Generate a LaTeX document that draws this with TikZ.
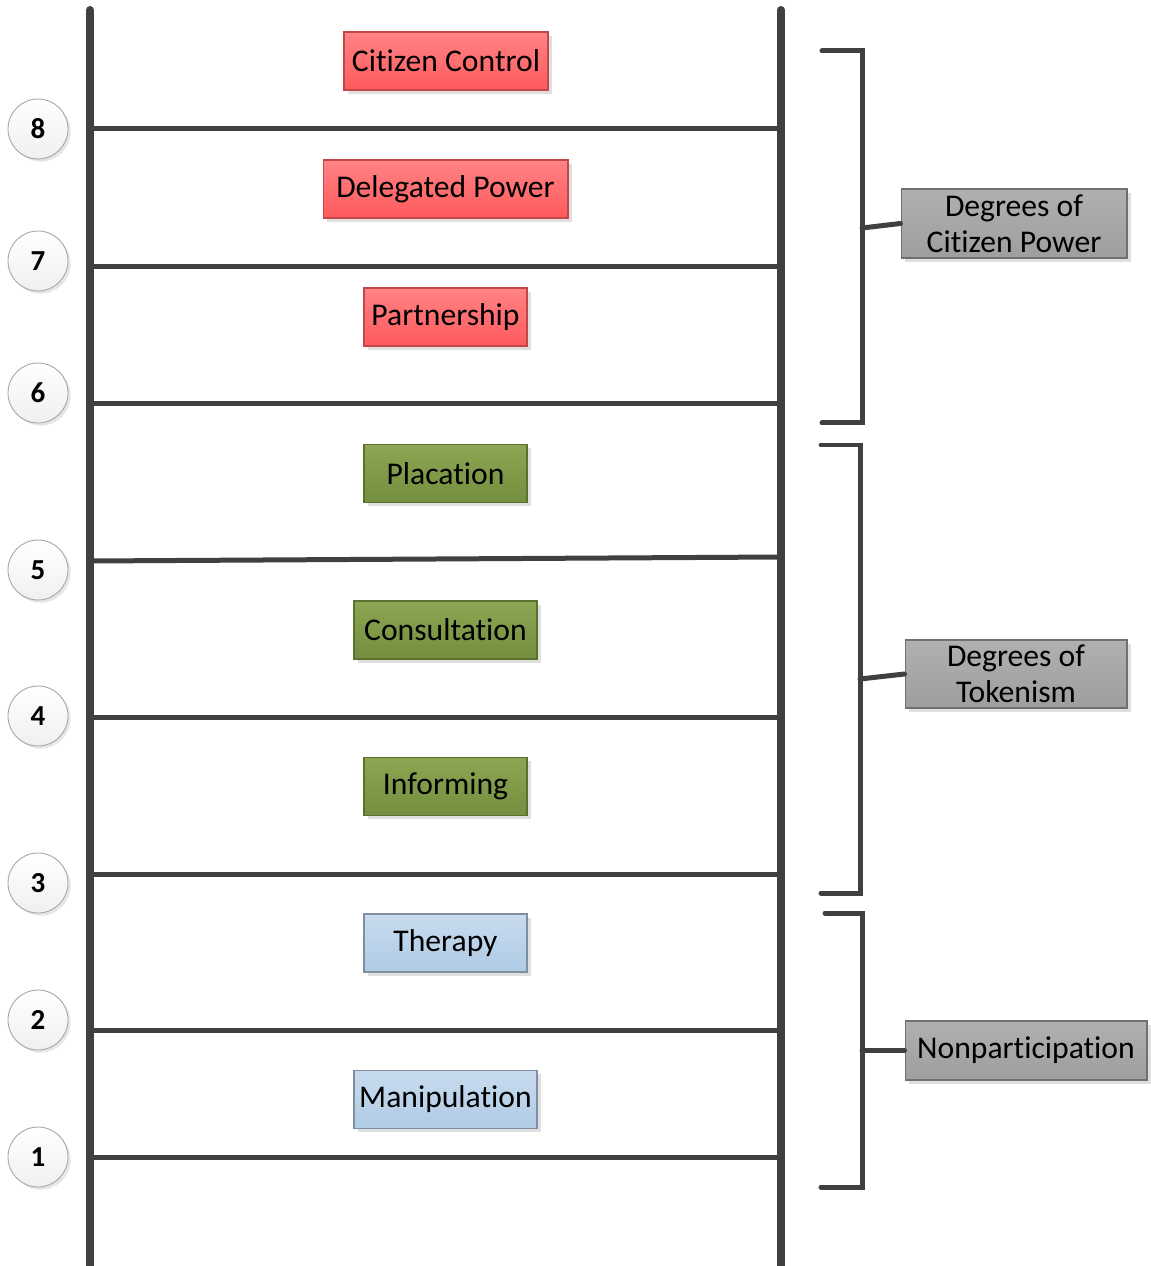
\documentclass[tikz,border=0pt]{standalone}
\usepackage{fontspec}
\setmainfont{Carlito}[Ligatures=NoCommon]
\usetikzlibrary{shadows}
\definecolor{ink}{HTML}{404040}
\definecolor{redtop}{HTML}{FF8385}
\definecolor{redbot}{HTML}{FF5A5C}
\definecolor{redline}{HTML}{C04848}
\definecolor{greentop}{HTML}{8CA653}
\definecolor{greenbot}{HTML}{738E3E}
\definecolor{greenline}{HTML}{5C7030}
\definecolor{bluetop}{HTML}{C8DBEE}
\definecolor{bluebot}{HTML}{AFCBE6}
\definecolor{blueline}{HTML}{7F8F9F}
\definecolor{graytop}{HTML}{B0B0B0}
\definecolor{graybot}{HTML}{9E9E9E}
\definecolor{grayline}{HTML}{707070}
\begin{document}
\begin{tikzpicture}[x=0.02cm,y=-0.02cm,
  rail/.style={ink, line width=0.16cm},
  rungline/.style={ink, line width=0.1cm},
  brace/.style={ink, line width=0.1cm, line cap=round},
  stage/.style={rectangle, draw, line width=0.6pt, minimum height=1.16cm,
    font=\fontsize{18}{20}\selectfont, inner sep=0pt,
    drop shadow={shadow xshift=2pt, shadow yshift=-2pt, opacity=0.25}},
  redbox/.style={stage, draw=redline, top color=redtop, bottom color=redbot},
  greenbox/.style={stage, draw=greenline, top color=greentop, bottom color=greenbot},
  bluebox/.style={stage, draw=blueline, top color=bluetop, bottom color=bluebot},
  group/.style={rectangle, draw=grayline, line width=0.6pt, top color=graytop,
    bottom color=graybot, align=center, inner sep=0pt,
    font=\fontsize{18}{20.4}\selectfont,
    drop shadow={shadow xshift=2pt, shadow yshift=-2pt, opacity=0.25}},
  step num/.style={circle, draw=gray!70, line width=0.5pt, minimum size=1.2cm,
    inner sep=0pt, top color=white, bottom color=gray!12,
    font=\bfseries\fontsize{16.5}{18}\selectfont,
    drop shadow={shadow xshift=1.5pt, shadow yshift=-1.5pt, opacity=0.2}}
]
\useasboundingbox (0,0) rectangle (1150,1266);

% ladder rails
\coordinate (lt) at (90,10);
\coordinate (lb) at (90,1266);
\coordinate (rt) at (781,10);
\coordinate (rb) at (781,1266);
\draw[rail] (lt) -- (lb);
\draw[rail] (rt) -- (rb);
\fill[ink] (lt) circle (0.08cm) (rt) circle (0.08cm);

% rungs
\foreach \n/\yl/\yr in {8/129/129, 7/267/267, 6/404/404, 5/561/557,
                        4/717/717, 3/874/874, 2/1030/1030, 1/1157/1157}{
  \coordinate (rl\n) at (90,\yl);
  \coordinate (rr\n) at (781,\yr);
  \draw[rungline] (rl\n) -- (rr\n);
}

% rung numbers
\foreach \n/\y in {8/129, 7/261, 6/393, 5/570, 4/716, 3/883, 2/1020, 1/1157}{
  \node[step num] (c\n) at (38,\y) {\n};
}

% ladder stages
\node[redbox, minimum width=4.08cm] (s8) at (446,61) {Citizen Control};
\node[redbox, minimum width=4.90cm] (s7) at (445.5,189) {Delegated Power};
\node[redbox, minimum width=3.26cm] (s6) at (445.5,317) {Partnership};
\node[greenbox, minimum width=3.26cm] (s5) at (445.5,473.5) {Placation};
\node[greenbox, minimum width=3.66cm] (s4) at (445.5,630) {Consultation};
\node[greenbox, minimum width=3.26cm] (s3) at (445.5,786.5) {Informing};
\node[bluebox, minimum width=3.26cm] (s2) at (445.5,943) {Therapy};
\node[bluebox, minimum width=3.66cm] (s1) at (445.5,1099.5) {Manipulation};

% groups
\node[group, minimum width=4.52cm, minimum height=1.38cm] (gp) at (1014,223.5)
  {Degrees of\\Citizen Power};
\node[group, minimum width=4.44cm, minimum height=1.36cm] (gt) at (1016,674)
  {Degrees of\\Tokenism};
\node[group, minimum width=4.84cm, minimum height=1.18cm] (gn) at (1026,1050.5)
  {Nonparticipation};

% brackets
\coordinate (a1) at (822,51);
\coordinate (a2) at (862,51);
\coordinate (a3) at (862,423);
\coordinate (a4) at (822,423);
\coordinate (am) at (862,228);
\draw[brace] (a1) -- (a2) -- (a3) -- (a4);
\draw[brace] (am) -- (gp.west);

\coordinate (b1) at (821,445);
\coordinate (b2) at (860,445);
\coordinate (b3) at (860,893);
\coordinate (b4) at (821,893);
\coordinate (bm) at (860,679);
\draw[brace] (b1) -- (b2) -- (b3) -- (b4);
\draw[brace] (bm) -- (gt.west);

\coordinate (d1) at (825,913);
\coordinate (d2) at (862,913);
\coordinate (d3) at (862,1187);
\coordinate (d4) at (821,1187);
\coordinate (dm) at (862,1050.5);
\draw[brace] (d1) -- (d2) -- (d3) -- (d4);
\draw[brace] (dm) -- (gn.west);
\end{tikzpicture}
\end{document}
